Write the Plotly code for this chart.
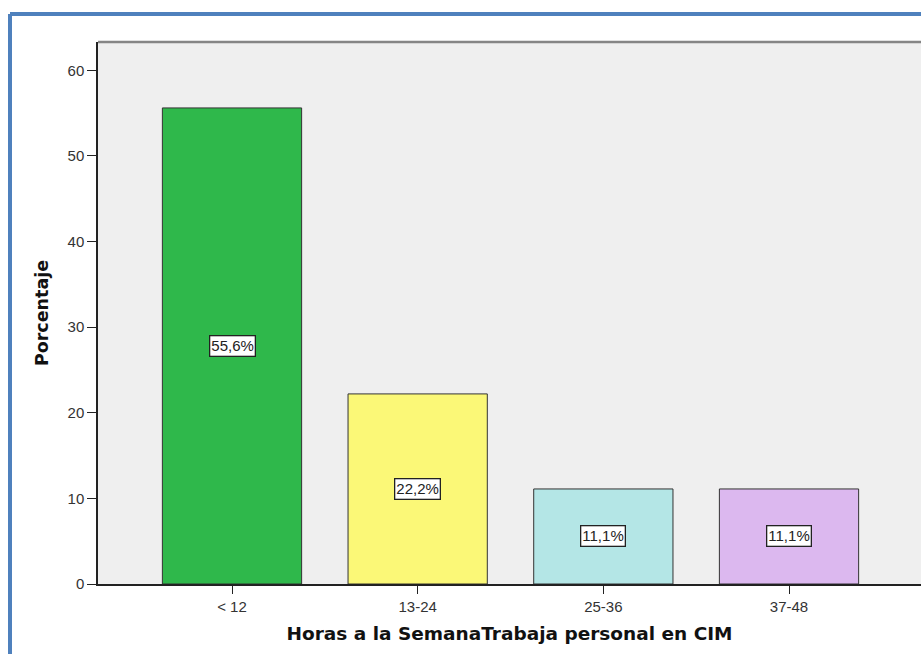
import plotly.graph_objects as go

categorias = ["< 12", "13-24", "25-36", "37-48"]
porcentajes = [55.6, 22.2, 11.1, 11.1]
colores = ["#2fb84b", "#fbf877", "#b4e6e6", "#dcb8ef"]
etiquetas = [f"{v:.1f}".replace(".", ",") + "%" for v in porcentajes]

W, H = 921, 654
ML, MT, MB, MR = 98, 42, 70, 0
pw = W - ML - MR
ph = H - MT - MB

# rango x: el area de grafico se corta en el borde derecho de la ventana
paso = 185.67
x0 = -(232 - ML) / paso
x1 = x0 + pw / paso

fig = go.Figure()
fig.add_trace(go.Bar(
    x=categorias, y=porcentajes,
    marker=dict(color=colores, line=dict(color="#333333", width=1)),
    width=0.75, hoverinfo="skip",
))

for c, v, t in zip(categorias, porcentajes, etiquetas):
    fig.add_annotation(x=c, y=v / 2, text=t, showarrow=False,
                       font=dict(size=15, color="#222222"),
                       bgcolor="white", bordercolor="#222222", borderwidth=1.3, borderpad=1)

# marco superior gris del area de grafico
fig.add_shape(type="line", xref="paper", yref="paper", x0=0, x1=1, y0=1, y1=1,
              line=dict(color="#858585", width=2.5))

# borde azul de la figura (izquierdo y superior)
bx = (10 - ML) / pw
by = 1 + (MT - 14) / ph
fig.add_shape(type="line", xref="paper", yref="paper", x0=bx, x1=1.05, y0=by, y1=by,
              line=dict(color="#4f81bd", width=4))
fig.add_shape(type="line", xref="paper", yref="paper", x0=bx, x1=bx, y0=by, y1=-1,
              line=dict(color="#4f81bd", width=4))

fig.update_layout(
    width=W, height=H,
    margin=dict(l=ML, r=MR, t=MT, b=MB, pad=0),
    paper_bgcolor="white", plot_bgcolor="#efefef",
    font=dict(family="Arial, Liberation Sans, sans-serif", size=15, color="#333333"),
    showlegend=False,
    xaxis=dict(range=[x0, x1], showline=True, linecolor="#222222", linewidth=1.5,
               ticks="outside", ticklen=8, tickcolor="#222222", showgrid=False,
               tickfont=dict(size=15),
               title=dict(text="<b>Horas a la SemanaTrabaja personal en CIM</b>",
                          font=dict(family="DejaVu Sans, sans-serif", size=18.5, color="#111111"),
                          standoff=13)),
    yaxis=dict(range=[0, 63.3], showline=True, linecolor="#222222", linewidth=1.5,
               ticks="outside", ticklen=9, tickcolor="#222222", showgrid=False,
               tickfont=dict(size=15), dtick=10, zeroline=False,
               title=dict(text="<b>Porcentaje</b>",
                          font=dict(family="DejaVu Sans, sans-serif", size=17.5, color="#111111"),
                          standoff=14)),
)

# sin margen en la pagina para que la figura ocupe toda la ventana
fig.write_html("out.html", config={"displayModeBar": False},
               post_script="document.body.style.margin='0';")
